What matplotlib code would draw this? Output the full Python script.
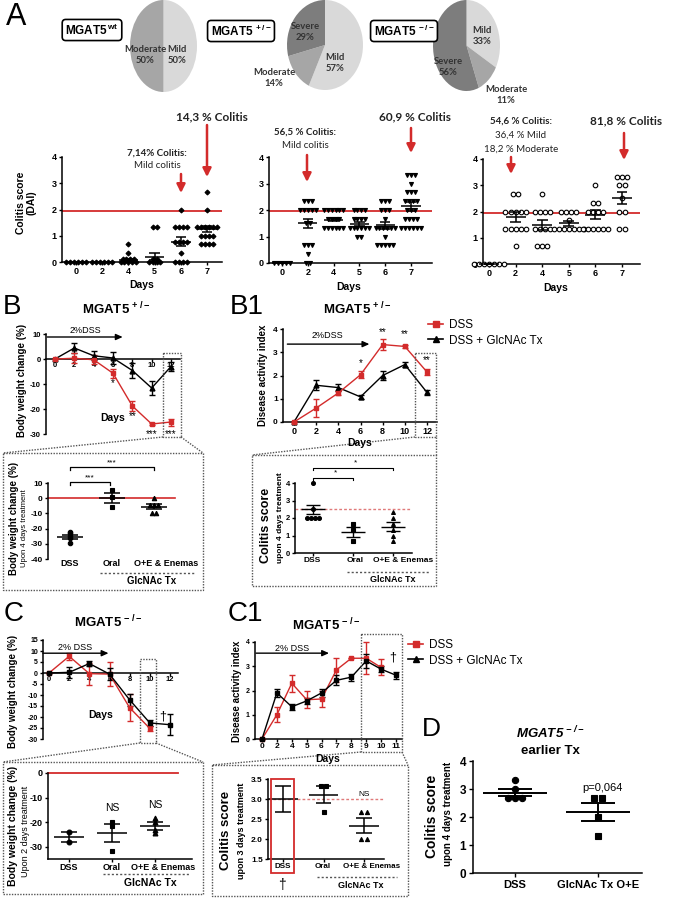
import numpy as np
import matplotlib
matplotlib.use("Agg")
import matplotlib.pyplot as plt
from matplotlib.lines import Line2D
from matplotlib.patches import Rectangle

W, H = 680, 899
RED = "#d32b2b"
PINK = "#e07a7a"
DOT = "#555555"
CAL = ["Lato", "DejaVu Sans"]

plt.rcParams["font.family"] = ["Liberation Sans", "DejaVu Sans"]
plt.rcParams["mathtext.default"] = "regular"

# ---- A: severity pies (clockwise from 12 o'clock: Mild, Moderate, Severe)
PIE_WT = [50, 50, 0]
PIE_HET = [57, 14, 29]
PIE_KO = [33, 11, 56]
PIE_COLORS = ["#d9d9d9", "#a6a6a6", "#7d7d7d"]

# ---- A: colitis score (DAI) per day, one list per day
A_DAYS = ["0", "2", "4", "5", "6", "7"]
A_WT = [
    [0] * 6,
    [0] * 6,
    [0.67, 0.33] + [0.1] * 4 + [0] * 5,
    [1.33, 1.33, 0.1, 0.1] + [0] * 4,
    [2.0] + [1.33] * 4 + [0.75] * 4 + [0.33] + [0] * 4,
    [2.67, 2.0] + [1.33] * 6 + [1.0] * 4 + [0.67] * 4,
]
A_WT_MEAN = [0, 0, 0.08, 0.2, 0.78, 1.25]
A_WT_SEM = [0, 0, 0.05, 0.13, 0.17, 0.12]

A_HET = [
    [0] * 5,
    [2.33] * 3 + [2.0] * 5 + [1.5] * 2 + [0.67] * 3 + [0.33] + [0] * 2,
    [2.0] * 6 + [1.67] * 4 + [1.33] * 6,
    [2.0] * 4 + [1.67] * 4 + [1.33] * 6 + [1.0] * 2,
    [2.33] * 3 + [2.0] * 3 + [1.67] + [1.33] * 6 + [1.0] + [0.67] * 5,
    [3.33] * 3 + [3.0] + [2.67] * 3 + [2.33] * 4 + [2.0] * 3 + [1.67] * 4 + [1.33] * 6,
]
A_HET_MEAN = [0, 1.5, 1.63, 1.47, 1.42, 2.15]
A_HET_SEM = [0, 0.17, 0.06, 0.07, 0.12, 0.17]

A_KO = [
    [0] * 7,
    [2.67] * 2 + [2.0] * 5 + [1.33] * 5 + [0.67],
    [2.67] + [2.0] * 4 + [1.33] * 4 + [0.67] * 3,
    [2.0] * 4 + [1.67] + [1.33] * 7,
    [3.0] + [2.33] * 2 + [2.0] * 4 + [1.33] * 6,
    [3.33] * 3 + [3.0] * 2 + [2.5] + [2.0] * 2 + [1.33] * 2,
]
A_KO_MEAN = [0, 1.78, 1.49, 1.55, 1.87, 2.5]
A_KO_SEM = [0, 0.19, 0.2, 0.1, 0.17, 0.23]

# ---- B: MGAT5 +/- body weight change (%)
B_DAYS = [0, 2, 4, 6, 8, 10, 12]
B_DSS = [0, 0.3, -0.3, -5.7, -18.8, -26.0, -25.2]
B_DSS_ERR = [0, 2.0, 1.8, 1.8, 2.0, 0.5, 1.4]
B_TX = [0, 4.4, 1.3, 0.4, -4.6, -11.6, -3.0]
B_TX_ERR = [0, 2.0, 1.8, 2.3, 3.0, 2.7, 1.8]
B_IN_GROUPS = ["DSS", "Oral", "O+E & Enemas"]
B_IN_VALUES = [[-22, -23, -25, -26, -29.5], [5.5, 0.5, -5.5], [0, -4.5, -4.5, -4.5, -10, -10]]
B_IN_MEAN = [-25.4, 0.2, -5.6]
B_IN_SEM = [1.3, 3.2, 1.6]

# ---- B1: MGAT5 +/- disease activity index
B1_DSS = [0, 0.6, 1.25, 2.03, 3.33, 3.25, 2.15]
B1_DSS_ERR = [0, 0.38, 0.1, 0.15, 0.22, 0.05, 0.12]
B1_TX = [0, 1.58, 1.48, 1.08, 2.0, 2.47, 1.27]
B1_TX_ERR = [0, 0.22, 0.15, 0.1, 0.2, 0.1, 0.1]
B1_IN_VALUES = [[4.0, 2.5, 2.0, 2.0, 2.0, 2.0], [1.67, 1.33, 0.67], [2.33, 2.0, 1.67, 1.33, 1.0, 0.67]]
B1_IN_MEAN = [2.5, 1.22, 1.5]
B1_IN_SEM = [0.27, 0.29, 0.25]

# ---- C: MGAT5 -/- body weight change (%)
C_DAYS_DSS = [0, 2, 4, 6, 8, 10]
C_DSS = [0, 7.6, -0.3, -0.5, -15.8, -25.2]
C_DSS_ERR = [0, 1.6, 5.0, 5.5, 6.2, 1.3]
C_DAYS_TX = [0, 2, 4, 6, 8, 10, 12]
C_TX = [0, 0.3, 4.3, -0.5, -12.2, -22.7, -23.5]
C_TX_ERR = [0, 2.6, 1.2, 2.8, 2.8, 1.5, 4.9]
C_IN_VALUES = [[-24, -28], [-19.8, -21.5, -31.8], [-18.3, -19.8, -23, -24.5]]
C_IN_MEAN = [-26.0, -24.4, -21.4]
C_IN_SEM = [2.0, 3.6, 1.6]

# ---- C1: MGAT5 -/- disease activity index (categorical days)
C1_DAYS = ["0", "2", "4", "5", "6", "7", "8", "9", "10", "11"]
C1_DSS = [0, 1.0, 2.3, 1.62, 1.65, 2.85, 3.33, 3.33, 2.95]
C1_DSS_ERR = [0, 0.3, 0.35, 0.35, 0.35, 0.5, 0, 0.65, 0.33]
C1_TX = [0, 1.9, 1.33, 1.57, 1.9, 2.42, 2.55, 3.22, 2.88, 2.63]
C1_TX_ERR = [0, 0.18, 0.12, 0.12, 0.15, 0.2, 0.15, 0.3, 0.12, 0.15]
C1_IN_VALUES = [[3.33, 2.67], [3.33, 3.33, 2.67], [2.67, 2.67, 2.0, 2.0]]
C1_IN_MEAN = [3.0, 3.11, 2.33]
C1_IN_SEM = [0.33, 0.22, 0.19]

# ---- D: earlier treatment
D_GROUPS = ["DSS", "GlcNAc Tx O+E"]
D_VALUES = [[3.33, 3.0, 2.67, 2.67, 2.67], [2.67, 2.67, 2.0, 1.33]]
D_MEAN = [2.87, 2.17]
D_SEM = [0.13, 0.32]

fig = plt.figure(figsize=(W / 100, H / 100), dpi=100)


def lin(p0, v0, p1, v1, p):
    return v0 + (p - p0) * (v1 - v0) / (p1 - p0)


def make_ax(box, xref, yref):
    l, t, r, b = box
    ax = fig.add_axes([l / W, 1 - b / H, (r - l) / W, (b - t) / H])
    ax.set_xlim(lin(*xref, l), lin(*xref, r))
    ax.set_ylim(lin(*yref, b), lin(*yref, t))
    ax.patch.set_visible(False)
    ax.spines[["top", "right"]].set_visible(False)
    ax.spines[["left", "bottom"]].set_linewidth(1.1)
    ax.tick_params(width=1.0, length=2.5, pad=1.2)
    return ax


def ticks(ax, axis, pos, labels, size):
    setter = ax.set_xticks if axis == "x" else ax.set_yticks
    setter(pos, labels, fontsize=size, fontweight="bold")


def column(ax, x, vals, mean, sem, marker, spacing, mean_w, cap_w, ms, mfc="black", lw=1.1):
    vals = np.asarray(vals, dtype=float)
    for v in np.unique(vals):
        n = int(np.sum(vals == v))
        xs = x + (np.arange(n) - (n - 1) / 2) * spacing
        ax.plot(xs, np.full(n, v), ls="none", marker=marker, ms=ms, mfc=mfc,
                mec="black", mew=0.8, clip_on=False, zorder=3)
    kw = dict(color="black", lw=lw, zorder=4, clip_on=False)
    ax.hlines(mean, x - mean_w / 2, x + mean_w / 2, **kw)
    ax.vlines(x, mean - sem, mean + sem, **kw)
    ax.hlines([mean - sem, mean + sem], x - cap_w / 2, x + cap_w / 2, **kw)


def series(ax, x, y, err, color, marker, ms=3.5):
    c = ax.errorbar(x, y, yerr=err, color=color, marker=marker, ms=ms, lw=1.0,
                    elinewidth=1.0, capsize=2, capthick=1.0, zorder=3)
    c.lines[0].set_clip_on(False)
    for a in c.lines[1] + c.lines[2]:
        a.set_clip_on(False)


def dss_arrow(ax, x0, x1, y, tx, ty, label):
    ax.annotate("", xy=(x1, y), xytext=(x0, y), annotation_clip=False,
                arrowprops=dict(arrowstyle="-|>,head_length=0.4,head_width=0.18",
                                color="black", lw=1.0, shrinkA=0, shrinkB=0))
    ax.text(tx, ty, label, fontsize=6.5, ha="center", va="center", clip_on=False)


def group_ticks(ax, n):
    # tick marks at the group positions; the names are placed in the overlay
    ax.set_xticks(range(n), [""] * n)


# ================= A: pies =================
for box, sizes in [((130, 0, 197, 92), PIE_WT), ((287, 0, 363, 90), PIE_HET),
                   ((433, 0, 500, 91), PIE_KO)]:
    l, t, r, b = box
    pax = fig.add_axes([l / W, 1 - b / H, (r - l) / W, (b - t) / H])
    pax.pie(sizes, colors=PIE_COLORS, startangle=90, counterclock=False,
            wedgeprops=dict(linewidth=0))
    pax.set_aspect("auto")
    pax.set_xlim(-1, 1)
    pax.set_ylim(-1, 1)

# ================= A: scatter columns =================
A_SPEC = [
    ((62, 157, 222, 262), (76, 0, 207, 5), A_WT, A_WT_MEAN, A_WT_SEM, "D", 2.5, "black", 0.15),
    ((269, 157, 432, 263), (282, 0, 411, 5), A_HET, A_HET_MEAN, A_HET_SEM, "v", 2.9, "black", 0.15),
    ((483, 159, 640, 264), (489, 0, 622, 5), A_KO, A_KO_MEAN, A_KO_SEM, "o", 3.3, "white", 0.19),
]
for box, xref, groups, means, sems, mk, ms, mfc, sp in A_SPEC:
    ax = make_ax(box, xref, (box[3], 0, box[1], 4))
    ax.axhline(1.95, color=RED, lw=1.3, zorder=2)
    for i, vals in enumerate(groups):
        column(ax, i, vals, means[i], sems[i], mk, sp, 0.75, 0.4, ms, mfc=mfc)
    ticks(ax, "y", range(5), [str(v) for v in range(5)], 6.5)
    ticks(ax, "x", range(len(A_DAYS)), A_DAYS, 6.5)

# ================= B =================
axB = make_ax((46, 334, 180, 434), (55, 0, 171, 12), (359, 0, 334, 10))
axB.spines["bottom"].set_position(("data", 0))
series(axB, B_DAYS, B_TX, B_TX_ERR, "black", "^")
series(axB, B_DAYS, B_DSS, B_DSS_ERR, RED, "s")
ticks(axB, "y", [10, 0, -10, -20, -30], ["10", "0", "-10", "-20", "-30"], 5.5)
ticks(axB, "x", B_DAYS, [str(d) for d in B_DAYS], 5.5)
axB.tick_params(axis="x", length=2, pad=0.5)
for d, yv, s in [(6, -9.5, "*"), (8, -23, "**"), (10, -30, "***"), (12, -30, "***")]:
    axB.text(d, yv, s, fontsize=7, ha="center", va="center", clip_on=False)
axB.text(6, -23.5, "Days", fontsize=7.5, fontweight="bold", ha="center", va="center")
dss_arrow(axB, -0.8, 7.0, 8.8, 3.1, 11.4, "2%DSS")

axBi = make_ax((48, 483, 180, 559), (70, 0, 154, 2), (498, 0, 559, -40))
axBi.spines["bottom"].set_visible(False)
axBi.axhline(0, xmax=0.96, color=RED, lw=1.2, zorder=2, clip_on=False)
for i, (vals, mk) in enumerate(zip(B_IN_VALUES, ["o", "s", "^"])):
    column(axBi, i, vals, B_IN_MEAN[i], B_IN_SEM[i], mk, 0.1, 0.62, 0.4, 3.2)
ticks(axBi, "y", [10, 0, -10, -20, -30, -40], ["10", "0", "-10", "-20", "-30", "-40"], 6)
group_ticks(axBi, 3)
axBi.tick_params(axis="x", length=0)
for x0, x1, yb, ys in [(0, 2, 20.4, 23.0), (0, 0.95, 10.5, 13.6)]:
    axBi.plot([x0, x0, x1, x1], [yb - 2, yb, yb, yb - 2], color="black", lw=0.9, clip_on=False)
    axBi.text((x0 + x1) / 2, ys, "***", fontsize=6, ha="center", va="center", clip_on=False)

# ================= B1 =================
axB1 = make_ax((283, 329, 437, 422), (294, 0, 427, 12), (422, 0, 329, 4))
series(axB1, B_DAYS, B1_TX, B1_TX_ERR, "black", "^")
series(axB1, B_DAYS, B1_DSS, B1_DSS_ERR, RED, "s")
ticks(axB1, "y", range(5), [str(v) for v in range(5)], 6)
ticks(axB1, "x", B_DAYS, [str(d) for d in B_DAYS], 6.5)
for d, yv, s in [(6, 2.55, "*"), (8, 3.85, "**"), (10, 3.8, "**"), (12, 2.65, "**")]:
    axB1.text(d, yv, s, fontsize=7, ha="center", va="center", clip_on=False)
dss_arrow(axB1, -0.6, 6.8, 3.35, 3.0, 3.7, "2%DSS")

axB1i = make_ax((295, 483, 412, 553), (313, 0, 393, 2), (553, 0, 483, 4))
axB1i.axhline(2.5, color=PINK, lw=1.0, ls=(0, (2, 1.5)), zorder=2)
for i, (vals, mk) in enumerate(zip(B1_IN_VALUES, ["o", "s", "^"])):
    column(axB1i, i, vals, B1_IN_MEAN[i], B1_IN_SEM[i], mk, 0.1, 0.6, 0.35, 2.8, lw=1.0)
ticks(axB1i, "y", range(5), [str(v) for v in range(5)], 5.5)
group_ticks(axB1i, 3)
axB1i.tick_params(axis="x", length=2)
for x0, x1, yb, xs, ys in [(0, 2, 4.86, 1.07, 5.14), (0, 1, 4.29, 0.57, 4.57)]:
    axB1i.plot([x0, x0, x1, x1], [yb - 0.1, yb, yb, yb - 0.1], color="black", lw=0.8, clip_on=False)
    axB1i.text(xs, ys, "*", fontsize=6, ha="center", va="center", clip_on=False)

# ================= C =================
axC = make_ax((43, 640, 178, 739), (49, 0, 170, 12), (673, 0, 739, -30))
axC.spines["bottom"].set_position(("data", 0))
series(axC, C_DAYS_DSS, C_DSS, C_DSS_ERR, RED, "s")
series(axC, C_DAYS_TX, C_TX, C_TX_ERR, "black", "s")
ct = [15, 10, 5, 0, -5, -10, -15, -20, -25, -30]
ticks(axC, "y", ct, [str(v) for v in ct], 5)
ticks(axC, "x", C_DAYS_TX, [str(d) for d in C_DAYS_TX], 5.5)
axC.tick_params(axis="x", length=2, pad=0.5)
axC.text(5.1, -19, "Days", fontsize=7.5, fontweight="bold", ha="center", va="center")
axC.text(11.3, -19.8, "\u2020", fontsize=9, ha="center", va="center")
dss_arrow(axC, -0.6, 5.9, 9.0, 2.6, 11.8, "2% DSS")

axCi = make_ax((48, 773, 192, 859), (69, 0, 155, 2), (773, 0, 847, -30))
axCi.axhline(0, xmax=0.9, color=RED, lw=1.3, zorder=2, clip_on=False)
for i, (vals, mk) in enumerate(zip(C_IN_VALUES, ["o", "s", "^"])):
    column(axCi, i, vals, C_IN_MEAN[i], C_IN_SEM[i], mk, 0.1, 0.7, 0.35, 3.5)
ticks(axCi, "y", [0, -10, -20, -30], ["0", "-10", "-20", "-30"], 6.5)
group_ticks(axCi, 3)
axCi.tick_params(axis="x", length=2)
axCi.text(1, -14.3, "NS", fontsize=7.5, ha="center", va="center")
axCi.text(2, -13.0, "NS", fontsize=7.5, ha="center", va="center")

# ================= C1 =================
axC1 = make_ax((255, 642, 402, 739), (262, 0, 396, 9), (739, 0, 642, 4))
series(axC1, range(len(C1_DSS)), C1_DSS, C1_DSS_ERR, RED, "s", ms=3)
series(axC1, range(len(C1_TX)), C1_TX, C1_TX_ERR, "black", "s", ms=3.5)
ticks(axC1, "y", range(5), [str(v) for v in range(5)], 5)
ticks(axC1, "x", range(len(C1_DAYS)), C1_DAYS, 6)
axC1.tick_params(axis="x", length=2, pad=1)
axC1.text(8.75, 3.35, "\u2020", fontsize=9, ha="center", va="center")
dss_arrow(axC1, -0.4, 4.5, 3.54, 2.0, 3.74, "2% DSS")

axC1i = make_ax((268, 779, 384, 859), (283, 0, 364, 2), (859, 1.5, 779, 3.5))
axC1i.axhline(3.0, color=PINK, lw=1.0, ls=(0, (2, 1.5)), zorder=2)
for i, (vals, mk, ms) in enumerate(zip(C1_IN_VALUES, ["s", "s", "^"], [0, 3, 3])):
    column(axC1i, i, vals, C1_IN_MEAN[i], C1_IN_SEM[i], mk, 0.13, 0.72, 0.38, ms)
c1t = [1.5, 2.0, 2.5, 3.0, 3.5]
ticks(axC1i, "y", c1t, [f"{v:.1f}" for v in c1t], 6)
group_ticks(axC1i, 3)
axC1i.tick_params(axis="x", length=2)
axC1i.text(2, 3.1, "NS", fontsize=6, ha="center", va="center")

# ================= D =================
axD = make_ax((473, 761, 642, 873), (515, 0, 598, 1), (873, 0, 761, 4))
for i, (vals, mk) in enumerate(zip(D_VALUES, ["o", "s"])):
    column(axD, i, vals, D_MEAN[i], D_SEM[i], mk, 0.09, 0.78, 0.42, 4.5, lw=1.4)
ticks(axD, "y", range(5), [str(v) for v in range(5)], 8.5)
ticks(axD, "x", range(2), D_GROUPS, 8)
axD.tick_params(length=3, pad=2)
axD.text(1.05, 3.05, "p=0,064", fontsize=8, ha="center", va="center")

# ================= legends =================
handles = [Line2D([], [], color=RED, marker="s", ms=4, lw=1.2),
           Line2D([], [], color="black", marker="^", ms=4, lw=1.2)]
for x, y in [(428, 319), (408, 639)]:
    fig.legend(handles, ["DSS", "DSS + GlcNAc Tx"], loc="upper left",
               bbox_to_anchor=(x / W, 1 - y / H), frameon=False, fontsize=8.5,
               handlelength=1.3, handletextpad=0.5, labelspacing=0.3,
               borderpad=0, borderaxespad=0)

# ================= overlay (pixel coordinates) =================
ov = fig.add_axes([0, 0, 1, 1])
ov.set_xlim(0, W)
ov.set_ylim(H, 0)
ov.axis("off")


def t(x, y, s, size, weight="normal", **kw):
    kw.setdefault("ha", "center")
    kw.setdefault("va", "center")
    ov.text(x, y, s, fontsize=size, fontweight=weight, **kw)


for s, x, y, size in [("A", 16, 17, 22), ("B", 12, 307, 20), ("B1", 247, 307, 20),
                      ("C", 14, 614, 20), ("C1", 245, 614, 20), ("D", 431, 729, 19)]:
    t(x, y, s, size)

for s, x, y in [("MGAT5$^{\\,wt}$", 92, 30), ("MGAT5$^{\\,+/-}$", 241, 31), ("MGAT5$^{\\,-/-}$", 404, 31)]:
    t(x, y, s, 8.5, "bold", bbox=dict(boxstyle="round,pad=0.25,rounding_size=0.3",
                                       fc="white", ec="black", lw=1.2))

for s, x, y in [("Moderate\n50%", 145, 55), ("Mild\n50%", 177, 55), ("Severe\n29%", 305, 32),
                ("Mild\n57%", 335, 63), ("Moderate\n14%", 274, 78), ("Mild\n33%", 482, 36),
                ("Severe\n56%", 448, 67), ("Moderate\n11%", 506, 95)]:
    t(x, y, s, 6.8, "bold", family=CAL, color="#333333", linespacing=1.25)

for s, x, y, size, w in [("7,14% Colitis:", 157, 153, 7, "bold"), ("Mild colitis", 157, 165, 7, "normal"),
                         ("14,3 % Colitis", 212, 117, 8.5, "bold"),
                         ("56,5 % Colitis:", 305, 132, 7, "bold"), ("Mild colitis", 305, 146, 7, "normal"),
                         ("60,9 % Colitis", 415, 117, 8.5, "bold"),
                         ("54,6 % Colitis:", 521, 121, 7, "bold"), ("36,4 % Mild", 521, 135, 7, "normal"),
                         ("18,2 % Moderate", 521, 149, 7, "normal"),
                         ("81,8 % Colitis", 626, 121, 8.5, "bold")]:
    t(x, y, s, size, w, family=CAL, color="#222222")

for x, y0, y1 in [(181, 174, 193), (207, 125, 177), (307, 155, 182), (411, 128, 153),
                  (511, 157, 174), (624, 133, 160)]:
    ov.annotate("", xy=(x, y1), xytext=(x, y0),
                arrowprops=dict(arrowstyle="-|>,head_length=0.5,head_width=0.25",
                                color=RED, lw=1.8, shrinkA=0, shrinkB=0))

for x, y in [(142, 285), (349, 287), (556, 288), (360, 443), (328, 759)]:
    t(x, y, "Days", 7.5, "bold")

for s, x, y in [("MGAT5$^{\\,+/-}$", 116, 309), ("MGAT5$^{\\,+/-}$", 357, 309),
                ("MGAT5$^{\\,-/-}$", 108, 622), ("MGAT5$^{\\,-/-}$", 326, 625)]:
    t(x, y, s, 9.5, "bold")
t(550, 733, "MGAT5$^{\\,-/-}$", 9.5, "bold", style="italic")
t(550, 751, "earlier Tx", 9.5, "bold")

# group names under the insets (offset to the right like the original)
for names_x, y, size in [((70, 112, 166), 563, 6.5), ((312, 355, 403), 561, 6),
                         ((69, 112, 163), 867, 6.5), ((283, 323, 372), 867, 5.8)]:
    for name, x in zip(B_IN_GROUPS, names_x):
        t(x, y, name, size, "bold")

# rotated axis titles
for s, x, y, size, w in [("Colitis score\n(DAI)", 26, 203, 7.5, "bold"),
                         ("Body weight change (%)", 22, 380, 7, "bold"),
                         ("Body weight change (%)", 14, 518, 7, "bold"),
                         ("Upon 4 days treatment", 25, 528, 5.5, "normal"),
                         ("Disease activity index", 263, 375, 7, "bold"),
                         ("Colitis score", 266, 525, 9, "bold"),
                         ("upon 4 days treatment", 280, 518, 6, "bold"),
                         ("Body weight change (%)", 13, 691, 7, "bold"),
                         ("Body weight change (%)", 13, 826, 7.5, "bold"),
                         ("Upon 2 days treatment", 26, 831, 6.5, "normal"),
                         ("Disease activity index", 237, 691, 7, "bold"),
                         ("Colitis score", 226, 830, 9.5, "bold"),
                         ("upon 3 days treatment", 241, 831, 6.5, "bold"),
                         ("Colitis score", 432, 816, 10, "bold"),
                         ("upon 4 days treatment", 448, 814, 7, "bold")]:
    t(x, y, s, size, w, rotation=90, linespacing=1.1)

# GlcNAc Tx group brackets under insets
for x0, x1, y, ty, size in [(100, 195, 573, 581, 7), (347, 430, 572, 579, 6.5),
                            (103, 190, 874, 883, 7.5), (317, 397, 877, 886, 6.5)]:
    ov.plot([x0, x1], [y, y], color=DOT, lw=1.0, ls=(0, (1.5, 1.5)))
    t((x0 + x1) / 2 + 4, ty, "GlcNAc Tx", size, "bold")

# zoom boxes and connecting lines
dkw = dict(color=DOT, lw=1.0, ls=(0, (1, 1)))
for (bx0, by0, bx1, by1), (ix0, iy0, ix1, iy1) in [
        ((163, 353, 181, 437), (3, 453, 203, 590)),
        ((415, 353, 436, 437), (252, 455, 436, 586)),
        ((140, 659, 156, 743), (3, 762, 203, 894)),
        ((361, 634, 402, 752), (212, 765, 408, 896))]:
    ov.add_patch(Rectangle((bx0, by0), bx1 - bx0, by1 - by0, fill=False, **dkw))
    ov.add_patch(Rectangle((ix0, iy0), ix1 - ix0, iy1 - iy0, fill=False, **dkw))
    ov.plot([bx0, ix0], [by1, iy0], **dkw)
    ov.plot([bx1, ix1], [by1, iy0], **dkw)

ov.add_patch(Rectangle((271, 779), 23, 94, fill=False, ec=RED, lw=1.3))
t(282, 885, "\u2020", 10)

fig.savefig("out.png", dpi=100, facecolor="white")
